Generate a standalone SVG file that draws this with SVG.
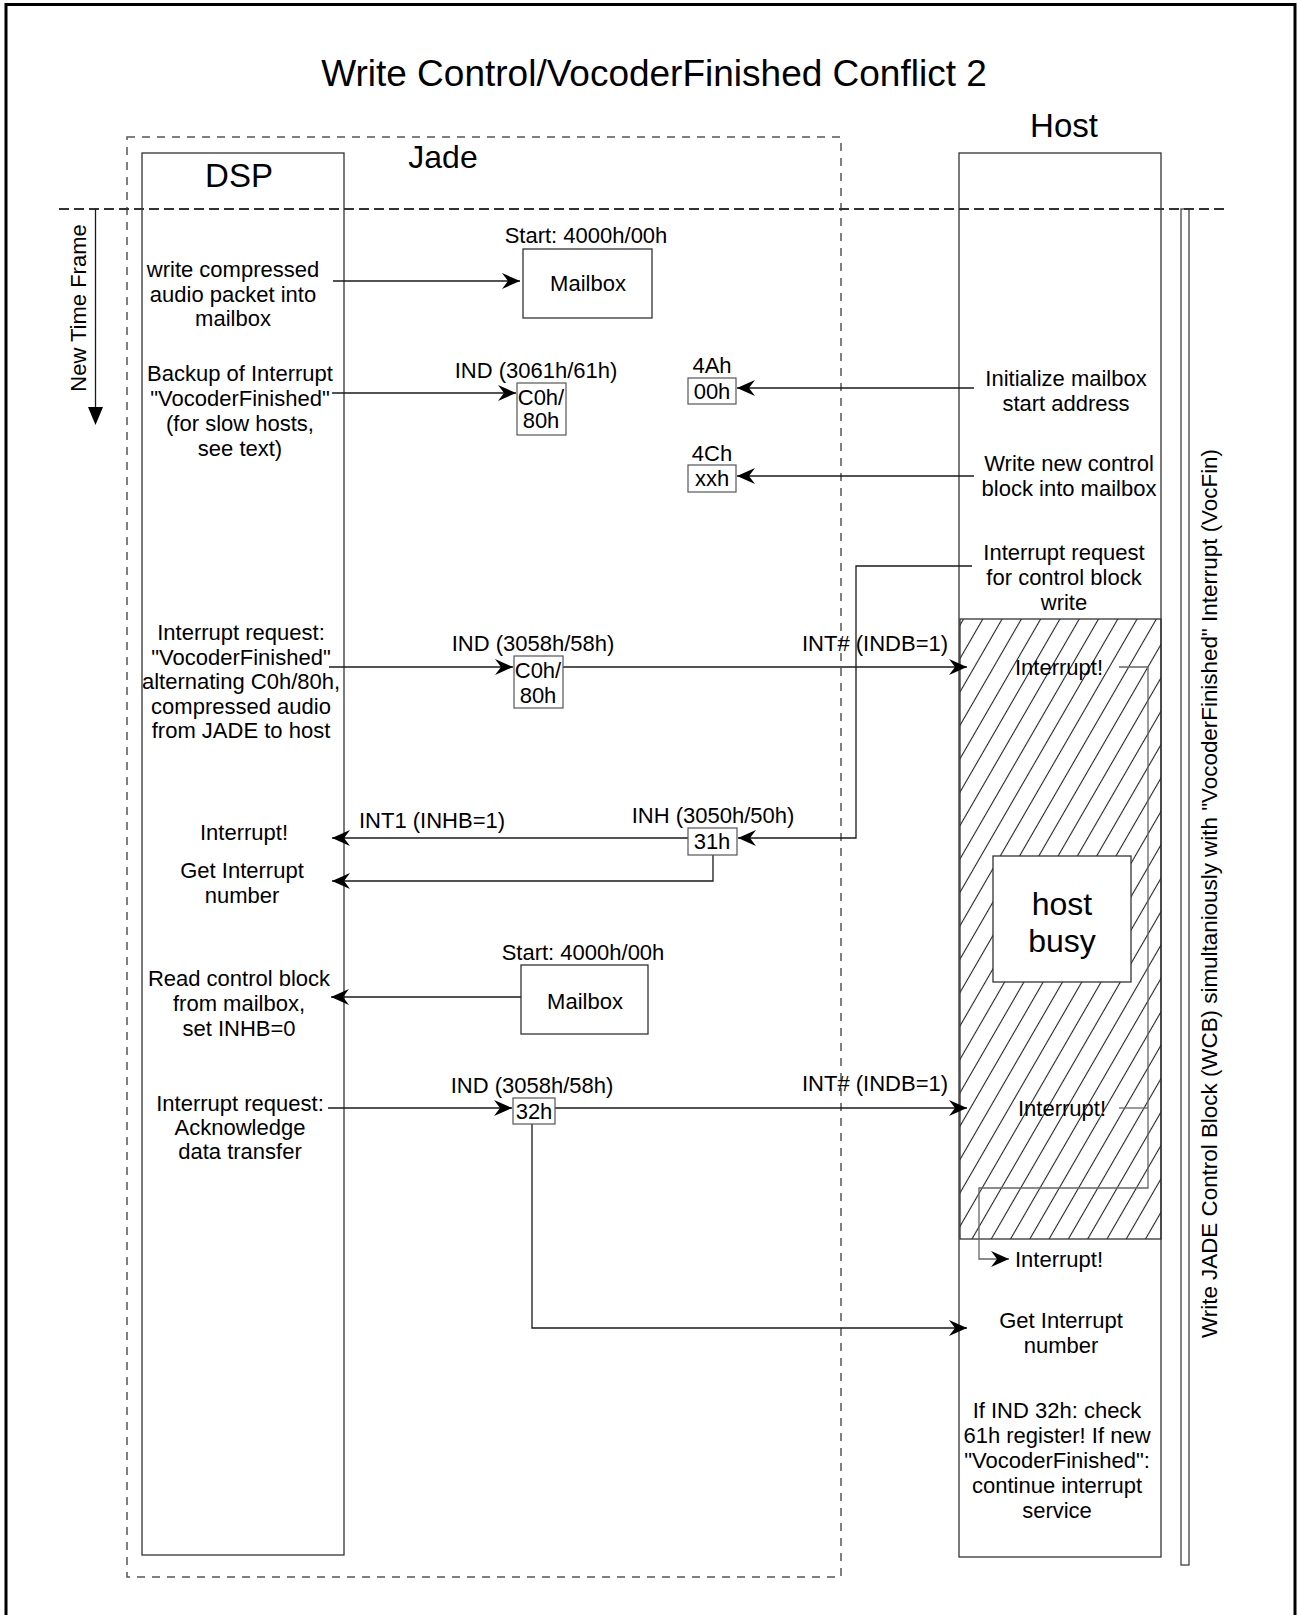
<svg xmlns="http://www.w3.org/2000/svg" width="1297" height="1615" viewBox="0 0 1297 1615">
<style>
text { font-family: "Liberation Sans", Arial, sans-serif; fill: #000; }
.t { font-size: 22px; text-anchor: middle; }
.ts { font-size: 22px; text-anchor: start; }
.h { font-size: 33px; text-anchor: middle; }
.box { fill: #fff; stroke: #333; stroke-width: 1.3; }
.lane { fill: none; stroke: #333; stroke-width: 1.3; }
.sbox { fill: #fff; stroke: #555; stroke-width: 1.2; }
.conn { fill: none; stroke: #1a1a1a; stroke-width: 1.3; }
.gconn { fill: none; stroke: #666; stroke-width: 1.3; }
</style>
<defs>
<marker id="arr" viewBox="-20 -10 22 20" refX="0" refY="0" markerWidth="22" markerHeight="20" markerUnits="userSpaceOnUse" orient="auto">
<path d="M0,0 L-18,-8 L-12,0 L-18,8 Z" fill="#000"/>
</marker>
<pattern id="hatch" patternUnits="userSpaceOnUse" width="16.7" height="20" patternTransform="rotate(30)">
<line x1="8.35" y1="-1" x2="8.35" y2="21" stroke="#222" stroke-width="1.1"/>
</pattern>
</defs>
<rect width="1297" height="1615" fill="#fff"/>
<g id="frame">
<rect x="6" y="4.5" width="1289" height="1700" fill="none" stroke="#000" stroke-width="3"/>
</g>
<g id="title">
<text x="654" y="86" style="font-size:37px;text-anchor:middle">Write Control/VocoderFinished Conflict 2</text>
</g>
<g id="jade">
<rect x="127" y="137" width="714" height="1440" fill="none" stroke="#555" stroke-width="1.5" stroke-dasharray="8 7"/>
<text x="443" y="168" style="font-size:32px;text-anchor:middle">Jade</text>
</g>
<g id="dsp">
<rect x="142" y="153" width="202" height="1402" class="lane"/>
<text x="239" y="187" class="h">DSP</text>
</g>
<g id="host">
<rect x="959" y="153" width="202" height="1404" class="lane"/>
<text x="1064" y="137" class="h">Host</text>
</g>
<g id="host-busy-region">
<rect x="960" y="619" width="201" height="620" fill="url(#hatch)" stroke="#333" stroke-width="1.3"/>
</g>
<g id="timeline">
<line x1="59" y1="209" x2="1229" y2="209" stroke="#333" stroke-width="2" stroke-dasharray="10 5"/>
</g>
<g id="new-time-frame">
<line x1="95.5" y1="209" x2="95.5" y2="408" stroke="#1a1a1a" stroke-width="1.3"/>
<polygon points="88,407 103,407 95.5,425" fill="#000"/>
<text transform="translate(86,308) rotate(-90)" class="t">New Time Frame</text>
</g>
<g id="wcb">
<rect x="1181" y="209" width="8" height="1356" fill="none" stroke="#333" stroke-width="1.2"/>
<text transform="translate(1217,893.5) rotate(-90)" style="font-size:22.4px;text-anchor:middle">Write JADE Control Block (WCB) simultaniously with "VocoderFinished" Interrupt (VocFin)</text>
</g>

<g id="connectors">
<path class="conn" d="M333,281 H520" marker-end="url(#arr)"/>
<path class="conn" d="M332,393 H516" marker-end="url(#arr)"/>
<path class="conn" d="M974,388 H737" marker-end="url(#arr)"/>
<path class="conn" d="M974,476 H737" marker-end="url(#arr)"/>
<path class="conn" d="M972,566 H856 V838 H738" marker-end="url(#arr)"/>
<path class="conn" d="M329,667 H513" marker-end="url(#arr)"/>
<path class="conn" d="M563,667 H967" marker-end="url(#arr)"/>
<path class="conn" d="M688,838 H332" marker-end="url(#arr)"/>
<path class="conn" d="M713,855 V881 H332" marker-end="url(#arr)"/>
<path class="conn" d="M521,997 H331" marker-end="url(#arr)"/>
<path class="conn" d="M328,1108 H512" marker-end="url(#arr)"/>
<path class="conn" d="M555,1108 H967" marker-end="url(#arr)"/>
<path class="conn" d="M532,1124 V1328 H967" marker-end="url(#arr)"/>
<path class="gconn" d="M1119,667 H1148 V1188 H979 V1259 H1009" marker-end="url(#arr)"/>
<path class="gconn" d="M1119,1108 H1148"/>
</g>

<g id="host-busy">
<rect x="993" y="856" width="138" height="126" class="box"/>
<text x="1062" y="915" style="font-size:32px;text-anchor:middle">host</text>
<text x="1062" y="952" style="font-size:32px;text-anchor:middle">busy</text>
</g>

<g id="mailbox1">
<text x="586" y="243" class="t">Start: 4000h/00h</text>
<rect x="523" y="249" width="129" height="69" class="box"/>
<text x="588" y="291" class="t">Mailbox</text>
</g>
<g id="mailbox2">
<text x="583" y="960" class="t">Start: 4000h/00h</text>
<rect x="521" y="965" width="127" height="69" class="box"/>
<text x="585" y="1009" class="t">Mailbox</text>
</g>

<g id="ind61">
<text x="536" y="378" class="t">IND (3061h/61h)</text>
<rect x="517" y="383" width="49" height="52" class="sbox"/>
<text x="541" y="405" class="t">C0h/</text>
<text x="541" y="428" class="t">80h</text>
</g>
<g id="reg4a">
<text x="712" y="373" class="t">4Ah</text>
<rect x="688" y="378" width="48" height="26" class="sbox"/>
<text x="712" y="399" class="t">00h</text>
</g>
<g id="reg4c">
<text x="712" y="461" class="t">4Ch</text>
<rect x="688" y="465" width="48" height="27" class="sbox"/>
<text x="712" y="486" class="t">xxh</text>
</g>
<g id="ind58a">
<text x="533" y="651" class="t">IND (3058h/58h)</text>
<rect x="514" y="656" width="49" height="52" class="sbox"/>
<text x="538" y="678" class="t">C0h/</text>
<text x="538" y="703" class="t">80h</text>
</g>
<g id="inh31">
<text x="713" y="823" class="t">INH (3050h/50h)</text>
<rect x="688" y="828" width="49" height="27" class="sbox"/>
<text x="712" y="849" class="t">31h</text>
</g>
<g id="ind58b">
<text x="532" y="1093" class="t">IND (3058h/58h)</text>
<rect x="513" y="1098" width="42" height="26" class="sbox"/>
<text x="534" y="1119" class="t">32h</text>
</g>

<g id="labels">
<text x="875" y="651" class="t">INT# (INDB=1)</text>
<text x="875" y="1091" class="t">INT# (INDB=1)</text>
<text x="432" y="828" class="t">INT1 (INHB=1)</text>
</g>

<g id="dsp-write-audio">
<text x="233" y="277" class="t">write compressed</text>
<text x="233" y="301.5" class="t">audio packet into</text>
<text x="233" y="326" class="t">mailbox</text>
</g>
<g id="dsp-backup">
<text x="240" y="381" class="t">Backup of Interrupt</text>
<text x="240" y="406" class="t">"VocoderFinished"</text>
<text x="240" y="431" class="t">(for slow hosts,</text>
<text x="240" y="456" class="t">see text)</text>
</g>
<g id="dsp-irq-vocfin">
<text x="241" y="640" class="t">Interrupt request:</text>
<text x="241" y="664.5" class="t">"VocoderFinished"</text>
<text x="241" y="689" class="t">alternating C0h/80h,</text>
<text x="241" y="713.5" class="t">compressed audio</text>
<text x="241" y="738" class="t">from JADE to host</text>
</g>
<g id="dsp-interrupt">
<text x="244" y="840" class="t">Interrupt!</text>
</g>
<g id="dsp-get-number">
<text x="242" y="878" class="t">Get Interrupt</text>
<text x="242" y="903" class="t">number</text>
</g>
<g id="dsp-read-control">
<text x="239" y="986" class="t">Read control block</text>
<text x="239" y="1011" class="t">from mailbox,</text>
<text x="239" y="1036" class="t">set INHB=0</text>
</g>
<g id="dsp-ack">
<text x="240" y="1111" class="t">Interrupt request:</text>
<text x="240" y="1135" class="t">Acknowledge</text>
<text x="240" y="1159" class="t">data transfer</text>
</g>

<g id="host-init">
<text x="1066" y="386" class="t">Initialize mailbox</text>
<text x="1066" y="411" class="t">start address</text>
</g>
<g id="host-write-control">
<text x="1069" y="471" class="t">Write new control</text>
<text x="1069" y="496" class="t">block into mailbox</text>
</g>
<g id="host-irq-request">
<text x="1064" y="560" class="t">Interrupt request</text>
<text x="1064" y="585" class="t">for control block</text>
<text x="1064" y="610" class="t">write</text>
</g>
<g id="host-interrupt1">
<text x="1015" y="675" class="ts">Interrupt!</text>
</g>
<g id="host-interrupt2">
<text x="1018" y="1116" class="ts">Interrupt!</text>
</g>
<g id="host-interrupt3">
<text x="1015" y="1267" class="ts">Interrupt!</text>
</g>
<g id="host-get-number">
<text x="1061" y="1328" class="t">Get Interrupt</text>
<text x="1061" y="1353" class="t">number</text>
</g>
<g id="host-check">
<text x="1057" y="1418" class="t">If IND 32h: check</text>
<text x="1057" y="1443" class="t">61h register! If new</text>
<text x="1057" y="1468" class="t">"VocoderFinished":</text>
<text x="1057" y="1493" class="t">continue interrupt</text>
<text x="1057" y="1518" class="t">service</text>
</g>
</svg>
